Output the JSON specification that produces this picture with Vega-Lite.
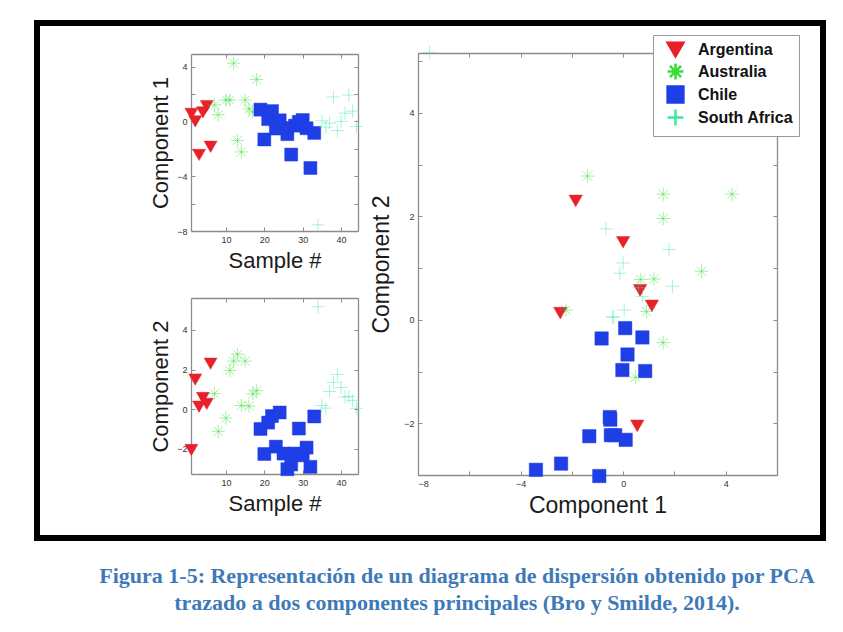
{
  "$schema": "https://vega.github.io/schema/vega-lite/v6.json",
  "width": 786,
  "height": 515,
  "autosize": {"type": "none"},
  "padding": {"left": 37, "top": 23, "right": 20, "bottom": 94},
  "background": "white",
  "title": {
    "text": ["Figura 1-5: Representación de un diagrama de dispersión obtenido por PCA", "trazado a dos componentes principales (Bro y Smilde, 2014)."],
    "orient": "bottom",
    "anchor": "middle",
    "dx": 27,
    "offset": 28,
    "font": "Liberation Serif",
    "fontSize": 22,
    "fontWeight": "bold",
    "color": "#3E7AB8",
    "lineHeight": 27
  },
  "config": {
    "view": {"stroke": "black", "strokeWidth": 6, "fill": "white"},
    "axis": {
      "grid": false,
      "labelFont": "Liberation Sans",
      "labelFontSize": 9,
      "labelColor": "#333333",
      "titleFont": "Liberation Sans",
      "titleFontWeight": "normal",
      "titleColor": "#1a1a1a",
      "domainColor": "#8c8c8c",
      "domainWidth": 1.3,
      "tickColor": "#8c8c8c",
      "tickSize": -4,
      "labelPadding": 8
    },
    "legend": {
      "orient": "none",
      "legendX": 616,
      "legendY": 12,
      "fillColor": "white",
      "strokeColor": "#999999",
      "padding": 5,
      "labelFont": "Liberation Sans",
      "labelFontSize": 16,
      "labelFontWeight": "bold",
      "labelColor": "#111111",
      "symbolSize": 250,
      "symbolStrokeWidth": 2.5,
      "symbolOffset": 8,
      "rowPadding": -5,
      "labelOffset": 13
    }
  },
  "data": {
    "values": [
      {"sample": 1, "country": "Argentina", "c1": 0.55, "c2": -2.05},
      {"sample": 2, "country": "Argentina", "c1": 0.0, "c2": 1.5},
      {"sample": 3, "country": "Argentina", "c1": -2.45, "c2": 0.13},
      {"sample": 4, "country": "Argentina", "c1": 0.66, "c2": 0.57},
      {"sample": 5, "country": "Argentina", "c1": 1.12, "c2": 0.27},
      {"sample": 6, "country": "Argentina", "c1": -1.85, "c2": 2.3},
      {"sample": 7, "country": "Australia", "c1": 1.2, "c2": 0.79},
      {"sample": 8, "country": "Australia", "c1": 0.49, "c2": -1.11},
      {"sample": 10, "country": "Australia", "c1": 1.56, "c2": -0.44},
      {"sample": 11, "country": "Australia", "c1": 1.56, "c2": 1.96},
      {"sample": 12, "country": "Australia", "c1": 4.25, "c2": 2.43},
      {"sample": 13, "country": "Australia", "c1": -1.39, "c2": 2.78},
      {"sample": 14, "country": "Australia", "c1": -2.23, "c2": 0.19},
      {"sample": 15, "country": "Australia", "c1": 1.56, "c2": 2.43},
      {"sample": 16, "country": "Australia", "c1": 0.91, "c2": 0.16},
      {"sample": 17, "country": "Australia", "c1": 0.69, "c2": 0.78},
      {"sample": 18, "country": "Australia", "c1": 3.06, "c2": 0.94},
      {"sample": 19, "country": "Chile", "c1": 0.86, "c2": -0.99},
      {"sample": 20, "country": "Chile", "c1": -1.32, "c2": -2.25},
      {"sample": 21, "country": "Chile", "c1": 0.17, "c2": -0.67},
      {"sample": 22, "country": "Chile", "c1": 0.75, "c2": -0.34},
      {"sample": 23, "country": "Chile", "c1": -0.52, "c2": -1.88},
      {"sample": 24, "country": "Chile", "c1": 0.08, "c2": -0.16},
      {"sample": 25, "country": "Chile", "c1": -0.48, "c2": -2.23},
      {"sample": 26, "country": "Chile", "c1": -0.93, "c2": -3.02},
      {"sample": 27, "country": "Chile", "c1": -2.42, "c2": -2.78},
      {"sample": 28, "country": "Chile", "c1": -0.31, "c2": -2.23},
      {"sample": 29, "country": "Chile", "c1": -0.03, "c2": -0.97},
      {"sample": 30, "country": "Chile", "c1": 0.1, "c2": -2.32},
      {"sample": 31, "country": "Chile", "c1": -0.5, "c2": -1.93},
      {"sample": 32, "country": "Chile", "c1": -3.4, "c2": -2.9},
      {"sample": 33, "country": "Chile", "c1": -0.84, "c2": -0.36},
      {"sample": 34, "country": "South Africa", "c1": -7.55, "c2": 5.17},
      {"sample": 35, "country": "South Africa", "c1": 0.04, "c2": 0.19},
      {"sample": 36, "country": "South Africa", "c1": -0.42, "c2": 0.06},
      {"sample": 37, "country": "South Africa", "c1": -0.13, "c2": 0.9},
      {"sample": 38, "country": "South Africa", "c1": 1.79, "c2": 1.36},
      {"sample": 39, "country": "South Africa", "c1": -0.67, "c2": 1.76},
      {"sample": 40, "country": "South Africa", "c1": 0.0, "c2": 1.1},
      {"sample": 41, "country": "South Africa", "c1": 0.6, "c2": 0.62},
      {"sample": 42, "country": "South Africa", "c1": 1.92, "c2": 0.65},
      {"sample": 43, "country": "South Africa", "c1": 0.75, "c2": 0.45},
      {"sample": 44, "country": "South Africa", "c1": -0.37, "c2": 0.05}
    ]
  },
  "resolve": {
    "scale": {"x": "independent", "y": "independent"},
    "axis": {"x": "independent", "y": "independent"}
  },
  "layer": [
    {
      "mark": {"type": "point", "opacity": 1, "strokeWidth": 1, "strokeOpacity": 0.45, "size": 170},
      "encoding": {
        "x": {"field": "sample", "type": "quantitative",
          "scale": {"domain": [0.9, 44.4], "range": [154, 321], "nice": false, "zero": false},
          "axis": {"orient": "bottom", "offset": -307, "values": [10, 20, 30, 40], "title": "Sample #", "titleFontSize": 22, "titlePadding": 6}},
        "y": {"field": "c1", "type": "quantitative",
          "scale": {"domain": [-8, 4.92], "range": [208, 31], "nice": false, "zero": false},
          "axis": {"orient": "left", "offset": -154, "values": [-8, -6, -4, -2, 0, 2, 4], "labelExpr": "datum.value % 4 === 0 ? datum.label : ''", "title": "Component 1", "titleFontSize": 22, "titlePadding": 4}},
        "fill": {"field": "country", "type": "nominal", "title": null,
          "scale": {"domain": ["Argentina", "Australia", "Chile", "South Africa"], "range": ["#E8202A", "transparent", "#1E3FE6", "transparent"]}},
        "stroke": {"field": "country", "type": "nominal", "title": null,
          "scale": {"domain": ["Argentina", "Australia", "Chile", "South Africa"], "range": ["#E8202A", "#33DD33", "#1E3FE6", "#3CE8A0"]}},
        "shape": {"field": "country", "type": "nominal", "title": null,
          "scale": {"domain": ["Argentina", "Australia", "Chile", "South Africa"], "range": ["triangle-down", "M-1,0L1,0M0,-1L0,1M-0.7,-0.7L0.7,0.7M-0.7,0.7L0.7,-0.7", "square", "M-1,0L1,0M0,-1L0,1"]}}
      }
    },
    {
      "mark": {"type": "point", "opacity": 0},
      "encoding": {
        "x": {"field": "sample", "type": "quantitative",
          "scale": {"domain": [0.9, 44.4], "range": [154, 321], "nice": false, "zero": false},
          "axis": {"orient": "top", "offset": -31, "values": [10, 20, 30, 40], "labels": false, "title": null}},
        "y": {"field": "c1", "type": "quantitative",
          "scale": {"domain": [-8, 4.92], "range": [208, 31], "nice": false, "zero": false},
          "axis": {"orient": "right", "offset": -465, "values": [-8, -6, -4, -2, 0, 2, 4], "labels": false, "title": null}}
      }
    },
    {
      "mark": {"type": "point", "opacity": 1, "strokeWidth": 1, "strokeOpacity": 0.45, "size": 170},
      "encoding": {
        "x": {"field": "sample", "type": "quantitative",
          "scale": {"domain": [0.9, 44.4], "range": [154, 321], "nice": false, "zero": false},
          "axis": {"orient": "bottom", "offset": -64, "values": [10, 20, 30, 40], "title": "Sample #", "titleFontSize": 22, "titlePadding": 6}},
        "y": {"field": "c2", "type": "quantitative",
          "scale": {"domain": [-3.26, 5.61], "range": [451, 275], "nice": false, "zero": false},
          "axis": {"orient": "left", "offset": -154, "values": [-2, 0, 2, 4], "title": "Component 2", "titleFontSize": 22, "titlePadding": 4}},
        "fill": {"field": "country", "type": "nominal", "title": null,
          "scale": {"domain": ["Argentina", "Australia", "Chile", "South Africa"], "range": ["#E8202A", "transparent", "#1E3FE6", "transparent"]}},
        "stroke": {"field": "country", "type": "nominal", "title": null,
          "scale": {"domain": ["Argentina", "Australia", "Chile", "South Africa"], "range": ["#E8202A", "#33DD33", "#1E3FE6", "#3CE8A0"]}},
        "shape": {"field": "country", "type": "nominal", "title": null,
          "scale": {"domain": ["Argentina", "Australia", "Chile", "South Africa"], "range": ["triangle-down", "M-1,0L1,0M0,-1L0,1M-0.7,-0.7L0.7,0.7M-0.7,0.7L0.7,-0.7", "square", "M-1,0L1,0M0,-1L0,1"]}}
      }
    },
    {
      "mark": {"type": "point", "opacity": 0},
      "encoding": {
        "x": {"field": "sample", "type": "quantitative",
          "scale": {"domain": [0.9, 44.4], "range": [154, 321], "nice": false, "zero": false},
          "axis": {"orient": "top", "offset": -275, "values": [10, 20, 30, 40], "labels": false, "title": null}},
        "y": {"field": "c2", "type": "quantitative",
          "scale": {"domain": [-3.26, 5.61], "range": [451, 275], "nice": false, "zero": false},
          "axis": {"orient": "right", "offset": -465, "values": [-2, 0, 2, 4], "labels": false, "title": null}}
      }
    },
    {
      "mark": {"type": "point", "opacity": 1, "strokeWidth": 1, "strokeOpacity": 0.45, "size": 180},
      "encoding": {
        "x": {"field": "c1", "type": "quantitative",
          "scale": {"domain": [-8, 6], "range": [381, 740], "nice": false, "zero": false},
          "axis": {"orient": "bottom", "offset": -63, "values": [-8, -6, -4, -2, 0, 2, 4, 6], "labelExpr": "datum.value % 4 === 0 ? datum.label : ''", "title": "Component 1", "titleFontSize": 23, "titlePadding": 6}},
        "y": {"field": "c2", "type": "quantitative",
          "scale": {"domain": [-3, 5.16], "range": [452, 30], "nice": false, "zero": false},
          "axis": {"orient": "left", "offset": -381, "values": [-3, -2, -1, 0, 1, 2, 3, 4, 5], "labelExpr": "datum.value % 2 === 0 ? datum.label : ''", "title": "Component 2", "titleFontSize": 23, "titlePadding": 10}},
        "fill": {"field": "country", "type": "nominal", "title": null,
          "scale": {"domain": ["Argentina", "Australia", "Chile", "South Africa"], "range": ["#E8202A", "transparent", "#1E3FE6", "transparent"]}},
        "stroke": {"field": "country", "type": "nominal", "title": null,
          "scale": {"domain": ["Argentina", "Australia", "Chile", "South Africa"], "range": ["#E8202A", "#33DD33", "#1E3FE6", "#3CE8A0"]}},
        "shape": {"field": "country", "type": "nominal", "title": null,
          "scale": {"domain": ["Argentina", "Australia", "Chile", "South Africa"], "range": ["triangle-down", "M-1,0L1,0M0,-1L0,1M-0.7,-0.7L0.7,0.7M-0.7,0.7L0.7,-0.7", "square", "M-1,0L1,0M0,-1L0,1"]}}
      }
    },
    {
      "mark": {"type": "point", "opacity": 0},
      "encoding": {
        "x": {"field": "c1", "type": "quantitative",
          "scale": {"domain": [-8, 6], "range": [381, 740], "nice": false, "zero": false},
          "axis": {"orient": "top", "offset": -30, "values": [-8, -6, -4, -2, 0, 2, 4, 6], "labels": false, "title": null}},
        "y": {"field": "c2", "type": "quantitative",
          "scale": {"domain": [-3, 5.16], "range": [452, 30], "nice": false, "zero": false},
          "axis": {"orient": "right", "offset": -46, "values": [-3, -2, -1, 0, 1, 2, 3, 4, 5], "labels": false, "title": null}}
      }
    }
  ]
}
